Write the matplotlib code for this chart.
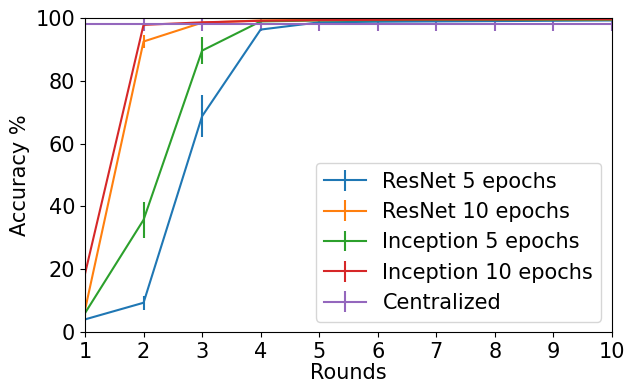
import numpy as np
import matplotlib; matplotlib.use("Agg"); import matplotlib.pyplot as plt

rounds = [1, 2, 3, 4, 5, 6, 7, 8, 9, 10]
resnet5 = [4.0, 9.3, 68.7, 96.3, 98.6, 98.8, 98.9, 99.0, 99.1, 99.2]
resnet5_err = [0.5, 2.2, 6.7, 0.6, 0.3, 0.3, 0.3, 0.3, 0.3, 0.3]
resnet10 = [7.0, 92.5, 98.5, 99.2, 99.4, 99.4, 99.5, 99.5, 99.5, 99.5]
resnet10_err = [0.8, 2.2, 0.6, 0.3, 0.2, 0.2, 0.2, 0.2, 0.2, 0.2]
incep5 = [6.0, 35.7, 89.6, 98.9, 99.2, 99.3, 99.4, 99.4, 99.5, 99.5]
incep5_err = [1.0, 5.7, 4.2, 0.4, 0.3, 0.3, 0.2, 0.2, 0.2, 0.2]
incep10 = [18.5, 97.8, 98.6, 99.1, 99.3, 99.4, 99.5, 99.5, 99.6, 99.6]
incep10_err = [5.6, 0.6, 0.4, 0.3, 0.2, 0.2, 0.2, 0.2, 0.2, 0.2]
central = [98.0] * 10
central_err = [2.2] * 10

series = [("ResNet 5 epochs", resnet5, resnet5_err, "C0"),
          ("ResNet 10 epochs", resnet10, resnet10_err, "C1"),
          ("Inception 5 epochs", incep5, incep5_err, "C2"),
          ("Inception 10 epochs", incep10, incep10_err, "C3"),
          ("Centralized", central, central_err, "C4")]

fig, ax = plt.subplots(figsize=(6.25, 3.82), dpi=100)
for name, y, e, c in series:
    ax.errorbar(rounds, y, yerr=e, color=c, label=name)
ax.set_xlim(1, 10); ax.set_ylim(0, 100)
ax.set_xticks(rounds)
ax.tick_params(labelsize=15)
ax.set_xlabel("Rounds", fontsize=15, labelpad=1); ax.set_ylabel("Accuracy %", fontsize=15)
ax.legend(loc="lower right", fontsize=15)
fig.subplots_adjust(left=0.136, right=0.979, top=0.953, bottom=0.131)
fig.savefig("out.png", dpi=100)
